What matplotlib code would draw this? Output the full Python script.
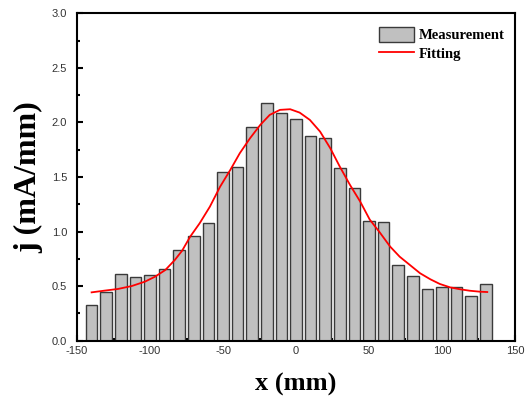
import numpy as np
import matplotlib

matplotlib.use("Agg")
import matplotlib.pyplot as plt
from matplotlib.ticker import MultipleLocator

plt.rcParams["axes.unicode_minus"] = False

# ---------- data ----------
bar_x = [-140, -130, -120, -110, -100, -90, -80, -70, -60, -50,
         -40, -30, -20, -10, 0, 10, 20, 30, 40, 50,
         60, 70, 80, 90, 100, 110, 120, 130]
bar_j = [0.33, 0.45, 0.61, 0.58, 0.60, 0.66, 0.83, 0.96, 1.08, 1.55,
         1.59, 1.96, 2.18, 2.09, 2.03, 1.88, 1.86, 1.58, 1.40, 1.10,
         1.09, 0.69, 0.59, 0.47, 0.49, 0.49, 0.41, 0.52]

# fitting curve
fit_x = [-140, -131, -122, -112.5, -103.5, -96.5, -89.5, -83, -78, -72.5,
         -66, -59, -52, -45, -38.5, -31.5, -24.5, -18, -11, -4,
         2.5, 9.5, 16.5, 23.5, 30, 37, 44, 50.5, 57.5, 64.5,
         71, 78, 85, 92, 98.5, 105.5, 112.5, 119, 126, 131]
fit_j = [0.443, 0.459, 0.474, 0.501, 0.541, 0.587, 0.648, 0.740, 0.825, 0.953,
         1.076, 1.228, 1.411, 1.565, 1.718, 1.855, 1.977, 2.069, 2.115, 2.121,
         2.090, 2.023, 1.916, 1.763, 1.595, 1.427, 1.274, 1.110, 0.990, 0.862,
         0.770, 0.694, 0.618, 0.563, 0.520, 0.489, 0.471, 0.458, 0.449, 0.446]

x_ticks = [-150, -100, -50, 0, 50, 100, 150]
y_ticks = [0.0, 0.5, 1.0, 1.5, 2.0, 2.5, 3.0]

SERIF = ["Liberation Serif", "DejaVu Serif"]
SANS = ["Liberation Sans", "DejaVu Sans"]

fig = plt.figure(figsize=(5.29, 3.99), dpi=100)
ax = fig.add_axes([0.1456, 0.1461, 0.8279, 0.8206])

bars = ax.bar(bar_x, bar_j, width=8, color="#c0c0c0", edgecolor="#3a3a3a",
              linewidth=1.0, zorder=2)
line, = ax.plot(fit_x, fit_j, color="#ff0000", lw=1.3, zorder=3)

ax.set_xlim(-150, 150)
ax.set_ylim(0, 3.0)
ax.set_xticks(x_ticks)
ax.set_yticks(y_ticks)
ax.set_yticklabels([f"{v:.1f}" for v in y_ticks])
ax.xaxis.set_minor_locator(MultipleLocator(25))
ax.yaxis.set_minor_locator(MultipleLocator(0.25))
ax.tick_params(which="both", direction="in", top=False, right=False,
               width=1.5, colors="black", labelcolor="#333333")
ax.tick_params(which="major", length=4, labelsize=8)
ax.tick_params(axis="x", which="major", pad=4)
ax.tick_params(axis="y", which="major", pad=7)
ax.tick_params(which="minor", length=2.5)
for lab in ax.get_xticklabels() + ax.get_yticklabels():
    lab.set_family(SANS)
for sp in ax.spines.values():
    sp.set_linewidth(1.5)

ax.set_xlabel("x (mm)", family=SERIF, fontweight="bold", fontsize=19, labelpad=12)
ax.set_ylabel("j (mA/mm)", family=SERIF, fontweight="bold", fontsize=23, labelpad=6)

ax.legend([bars, line], ["Measurement", "Fitting"], loc="upper right",
          bbox_to_anchor=(1.0, 0.99), frameon=False,
          prop={"family": SERIF, "weight": "bold", "size": 10.5},
          handlelength=2.4, handleheight=1.25, handletextpad=0.35,
          labelspacing=0.2, borderaxespad=0.3)

plt.savefig("out.png", dpi=100, facecolor="white")
